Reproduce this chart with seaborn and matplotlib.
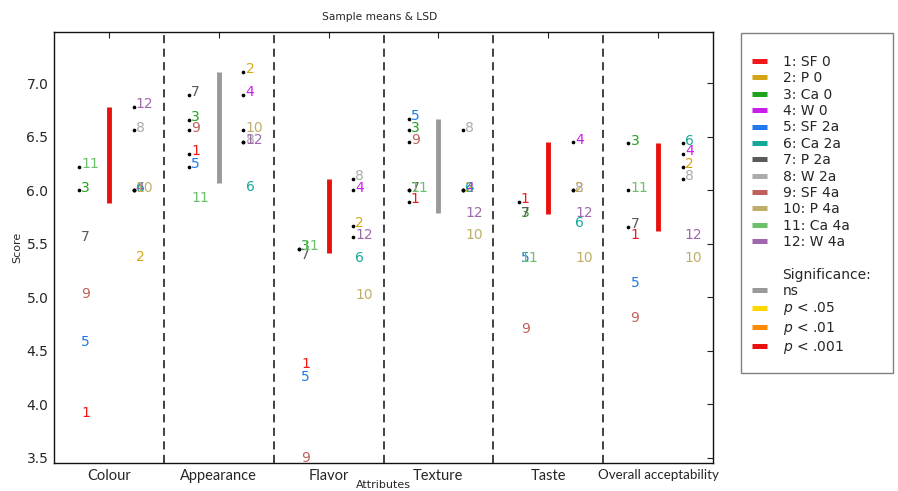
import numpy as np
import pandas as pd
import matplotlib
matplotlib.use("Agg")
import matplotlib.pyplot as plt
from matplotlib.lines import Line2D
from matplotlib.patches import Rectangle
import seaborn as sns

# ---------------- data ----------------
attributes = ["Colour", "Appearance", "Flavor", "Texture", "Taste", "Overall acceptability"]
treatments = ["SF 0", "P 0", "Ca 0", "W 0", "SF 2a", "Ca 2a", "P 2a", "W 2a",
              "SF 4a", "P 4a", "Ca 4a", "W 4a"]
# mean scores per attribute, in treatment order 1..12
colour     = [3.89, 5.35, 6.00, 6.00, 4.56, 6.00, 5.54, 6.56, 5.01, 6.00, 6.22, 6.78]
appearance = [6.34, 7.11, 6.66, 6.89, 6.22, 6.01, 6.89, 6.45, 6.56, 6.56, 5.90, 6.45]
flavor     = [4.35, 5.67, 5.45, 6.00, 4.23, 5.34, 5.37, 6.11, 3.47, 5.00, 5.45, 5.56]
texture    = [5.89, 6.00, 6.56, 6.00, 6.67, 6.00, 6.00, 6.56, 6.45, 5.56, 6.00, 5.76]
taste      = [5.89, 6.00, 5.76, 6.45, 5.34, 5.67, 5.76, 6.00, 4.68, 5.34, 5.34, 5.76]
overall    = [5.56, 6.22, 6.44, 6.34, 5.11, 6.44, 5.66, 6.11, 4.78, 5.34, 6.00, 5.56]
lsd        = [0.90, 1.04, 0.70, 0.88, 0.67, 0.82]
significance = ["p<.001", "ns", "p<.001", "ns", "p<.001", "p<.001"]

sig_labels = ["ns", "p<.05", "p<.01", "p<.001"]
sig_text = ["ns", "$p$ < .05", "$p$ < .01", "$p$ < .001"]
sig_colors = ["#999999", "#ffd700", "#ff8c00", "#e8110f"]
treat_colors = ["#f01818", "#d4a514", "#1fa31f", "#c81ee8", "#1f78f0", "#14a898",
                "#5a5a5a", "#ababab", "#c0605a", "#bfae6a", "#6abf6a", "#a068ac"]

scores = [colour, appearance, flavor, texture, taste, overall]

# ---------------- build table ----------------
rows = []
for ai, (attr, vals) in enumerate(zip(attributes, scores)):
    top = max(vals)
    for ti, v in enumerate(vals):
        num = ti + 1
        offset = -0.27 if num % 2 == 1 else 0.225
        rows.append(dict(attribute=attr, ai=ai, num=num, score=v,
                         x=ai + offset, dotted=(v >= top - lsd[ai] - 1e-9)))
df = pd.DataFrame(rows)

# ---------------- figure ----------------
sns.set_theme(style="white")
plt.rcParams["font.family"] = ["DejaVu Sans"]

fig = plt.figure(figsize=(8.98, 4.91), dpi=100)
ax = fig.add_axes([54 / 898, 1 - 463 / 491, (713 - 54) / 898, (463 - 32) / 491])

# dots for means not different from the best
sns.scatterplot(data=df[df["dotted"]], x="x", y="score", color="black", s=7,
                linewidth=0, ax=ax, legend=False, zorder=3)

# number labels
for _, r in df.iterrows():
    ax.annotate(str(r["num"]), (r["x"], r["score"]), xytext=(1.5, -1.0),
                textcoords="offset points", ha="left", va="baseline",
                fontsize=10, color=treat_colors[r["num"] - 1],
                annotation_clip=False, clip_on=True, zorder=4)

# LSD bars
for ai, vals in enumerate(scores):
    top = max(vals)
    col = sig_colors[sig_labels.index(significance[ai])]
    ax.vlines(ai, top - lsd[ai], top, colors=col, linewidth=3.5, zorder=2)

# dividers
for d in np.arange(0.5, len(attributes) - 0.5, 1.0):
    ax.axvline(d, color="#333333", linestyle=(0, (4.5, 3)), linewidth=1.3, zorder=1)

ax.set_xlim(-0.5, len(attributes) - 0.5)
ax.set_ylim(3.45, 7.48)
ax.set_xticks(range(len(attributes)))
ax.set_xticklabels(attributes, fontsize=10.5, family=["Lato", "DejaVu Sans"])
ax.get_xticklabels()[-1].set_fontsize(9.6)
ax.set_yticks(np.arange(3.5, 7.01, 0.5))
ax.set_yticklabels([f"{t:.1f}" for t in np.arange(3.5, 7.01, 0.5)], fontsize=10)
ax.tick_params(direction="in", top=True, right=True, length=4, width=0.8,
               color="#222222", pad=4)
ax.tick_params(axis="x", pad=4)
for s in ax.spines.values():
    s.set_color("#111111")
    s.set_linewidth(1.0)
ax.set_xlabel("")
ax.set_ylabel("")

fig.text(17 / 898, 1 - 247 / 491, "Score", rotation=90, ha="center", va="center", fontsize=8)
fig.text(383.5 / 898, 1 - 485 / 491, "Attributes", ha="center", va="center", fontsize=8)
fig.text(380 / 898, 1 - 17 / 491, "Sample means & LSD", ha="center", va="center", fontsize=7.7)

# legend
handles = [Line2D([], [], color=c, linewidth=3.6, solid_capstyle="butt") for c in treat_colors]
labels = [f"{i + 1}: {t}" for i, t in enumerate(treatments)]
handles += [Line2D([], [], alpha=0), Line2D([], [], alpha=0)]
labels += ["", "Significance:"]
handles += [Line2D([], [], color=c, linewidth=3.6, solid_capstyle="butt") for c in sig_colors]
labels += sig_text
fig.legend(handles, labels, loc="upper left", bbox_to_anchor=(752 / 898, 1 - 55 / 491),
           frameon=False, fontsize=10, handlelength=1.1, handletextpad=1.1,
           labelspacing=0.17, borderpad=0, borderaxespad=0)
fig.patches.append(Rectangle((741 / 898, 1 - 373 / 491), (893 - 741) / 898, (373 - 33) / 491,
                             transform=fig.transFigure, fill=False, edgecolor="#808080",
                             linewidth=1.0))

fig.savefig("out.png", dpi=100)
